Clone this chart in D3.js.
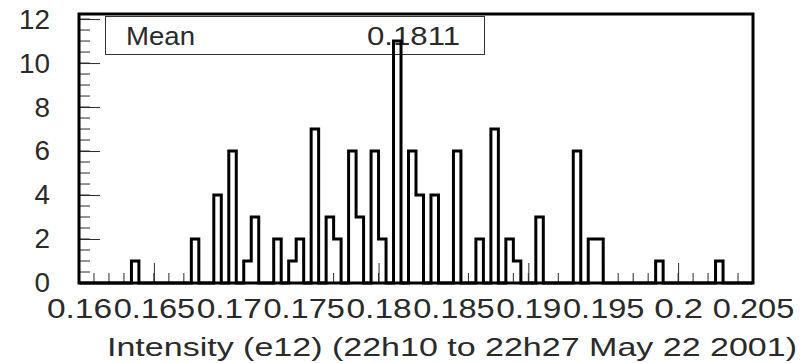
<!DOCTYPE html>
<html>
<head>
<meta charset="utf-8">
<script src="https://cdn.jsdelivr.net/npm/d3@7"></script>
<style>
  html, body { margin: 0; padding: 0; background: #fff; }
  svg { display: block; }
  text { font-family: "Liberation Sans", Arial, sans-serif; }
</style>
</head>
<body>
<script>
// ---- data ----
const xMin = 0.16, xMax = 0.205, binWidth = 0.0005;
const counts = [
  0,0,0,0,0,0,0,1,0,0,
  0,0,0,0,0,2,0,0,4,0,
  6,0,1,3,0,0,2,0,1,2,
  0,7,0,3,2,0,6,3,0,6,
  2,0,11,0,6,4,0,4,0,0,
  6,0,0,2,0,7,0,2,1,0,
  0,3,0,0,0,0,6,0,2,2,
  0,0,0,0,0,0,0,1,0,0,
  0,0,0,0,0,1,0,0,0,0
];
const xTickValues = [0.16,0.165,0.17,0.175,0.18,0.185,0.19,0.195,0.2,0.205];
const xTickLabels = ["0.16","0.165","0.17","0.175","0.18","0.185","0.19","0.195","0.2","0.205"];
const yTickValues = [0,2,4,6,8,10,12];
const yTickLabels = ["0","2","4","6","8","10","12"];
const statLabel = "Mean", statValue = "0.1811";
const xTitle = "Intensity (e12) (22h10 to 22h27 May 22 2001)";

// ---- layout ----
const W = 807, H = 363;
const L = 79, R = 753, T = 14, B = 283;
const svg = d3.select("body").append("svg").attr("width", W).attr("height", H);

const x = d3.scaleLinear().domain([xMin, xMax]).range([L, R]);
const y = d3.scaleLinear().domain([0, 12.23]).range([B, T]);
const ink = "#2a2a2a";

// stats box
svg.append("rect").attr("x", 105.5).attr("y", 16.5).attr("width", 379).attr("height", 38)
  .attr("fill", "#fff").attr("stroke", "#333").attr("stroke-width", 1);
svg.append("text").attr("x", 126).attr("y", 45).attr("font-size", 26).attr("fill", ink)
  .attr("textLength", 69).attr("lengthAdjust", "spacingAndGlyphs").text(statLabel);
svg.append("text").attr("x", 367).attr("y", 45).attr("font-size", 26).attr("fill", ink)
  .attr("textLength", 93).attr("lengthAdjust", "spacingAndGlyphs").text(statValue);

// minor ticks
const xMinor = d3.range(0, 46).map(i => xMin + i * 0.001);
svg.append("g").selectAll("line").data(xMinor).join("line")
  .attr("x1", d => x(d)).attr("x2", d => x(d)).attr("y1", B).attr("y2", B - 10)
  .attr("stroke", ink).attr("stroke-width", 1);
const yMinor = d3.range(0, 25).map(i => i * 0.5);
svg.append("g").selectAll("line").data(yMinor).join("line")
  .attr("x1", L).attr("x2", L + 11).attr("y1", d => y(d)).attr("y2", d => y(d))
  .attr("stroke", ink).attr("stroke-width", 1);

// x axis
const gx = svg.append("g").attr("transform", `translate(0,${B})`)
  .call(d3.axisBottom(x).tickValues(xTickValues).tickSize(-20).tickPadding(16)
    .tickFormat((d, i) => xTickLabels[i]));
gx.select(".domain").remove();
gx.selectAll("line").attr("stroke", ink);
gx.selectAll("text").attr("font-size", 27).attr("fill", ink)
  .attr("font-family", "Liberation Sans")
  .attr("textLength", (d, i) => xTickLabels[i].length * 16.3)
  .attr("lengthAdjust", "spacingAndGlyphs");

// y axis
const gy = svg.append("g").attr("transform", `translate(${L},0)`)
  .call(d3.axisLeft(y).tickValues(yTickValues).tickSize(-21).tickPadding(29)
    .tickFormat((d, i) => yTickLabels[i]));
gy.select(".domain").remove();
gy.selectAll("line").attr("stroke", ink);
gy.selectAll("text").attr("font-size", 28).attr("fill", ink)
  .attr("font-family", "Liberation Sans")
  .attr("textLength", (d, i) => yTickLabels[i].length * 15.5)
  .attr("lengthAdjust", "spacingAndGlyphs");

// histogram outline
const pts = [[x(xMin), y(0)]];
counts.forEach((c, i) => {
  const x0 = x(xMin + i * binWidth), x1 = x(xMin + (i + 1) * binWidth);
  pts.push([x0, y(c)], [x1, y(c)]);
});
pts.push([x(xMax), y(0)]);
svg.append("path").attr("d", d3.line()(pts)).attr("fill", "none")
  .attr("stroke", "#000").attr("stroke-width", 3).attr("stroke-linejoin", "miter");

// frame
svg.append("rect").attr("x", L).attr("y", T).attr("width", R - L).attr("height", B - T)
  .attr("fill", "none").attr("stroke", "#000").attr("stroke-width", 3);

// axis title
svg.append("text").attr("x", 107).attr("y", 356)
  .attr("font-size", 26).attr("fill", ink)
  .attr("textLength", 690).attr("lengthAdjust", "spacingAndGlyphs").text(xTitle);
</script>
</body>
</html>
